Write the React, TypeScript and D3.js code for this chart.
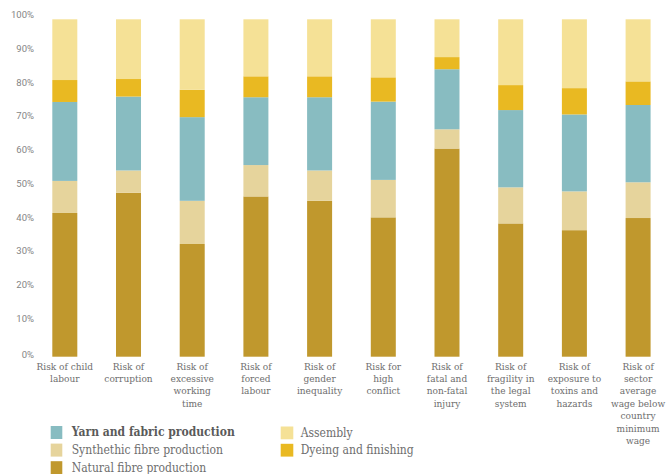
import React from "react";
import * as d3 from "d3";

const categories: string[] = [
  "Risk of child labour",
  "Risk of corruption",
  "Risk of excessive working time",
  "Risk of forced labour",
  "Risk of gender inequality",
  "Risk for high conflict",
  "Risk of fatal and non-fatal injury",
  "Risk of fragility in the legal system",
  "Risk of exposure to toxins and hazards",
  "Risk of sector average wage below country minimum wage",
];

const categoryLines: string[][] = [
  ["Risk of child", "labour"],
  ["Risk of", "corruption"],
  ["Risk of", "excessive", "working", "time"],
  ["Risk of", "forced", "labour"],
  ["Risk of", "gender", "inequality"],
  ["Risk for", "high", "conflict"],
  ["Risk of", "fatal and", "non-fatal", "injury"],
  ["Risk of", "fragility in", "the legal", "system"],
  ["Risk of", "exposure to", "toxins and", "hazards"],
  ["Risk of", "sector", "average", "wage below", "country", "minimum", "wage"],
];

const naturalFibre: number[] = [42.6, 48.6, 33.4, 47.5, 46.2, 41.3, 61.7, 39.5, 37.5, 41.1];
const syntheticFibre: number[] = [9.5, 6.6, 12.8, 9.3, 9.0, 11.1, 5.7, 10.7, 11.5, 10.6];
const yarnFabric: number[] = [23.4, 21.9, 24.8, 20.1, 21.7, 23.2, 17.8, 22.9, 22.8, 22.9];
const dyeingFinishing: number[] = [6.5, 5.2, 8.1, 6.2, 6.2, 7.2, 3.6, 7.4, 7.8, 7.0];
const assembly: number[] = [18.0, 17.7, 20.9, 16.9, 16.9, 17.2, 11.2, 19.5, 20.4, 18.4];

const seriesKeys: string[] = ["natural", "synthetic", "yarn", "dyeing", "assembly"];
const seriesNames: Record<string, string> = {
  natural: "Natural fibre production",
  synthetic: "Synthethic fibre production",
  yarn: "Yarn and fabric production",
  dyeing: "Dyeing and finishing",
  assembly: "Assembly",
};
const seriesColors: Record<string, string> = {
  natural: "#C0982D",
  synthetic: "#E6D49C",
  yarn: "#88BCC1",
  dyeing: "#E9B922",
  assembly: "#F5E196",
};

const yTicks: number[] = [0, 10, 20, 30, 40, 50, 60, 70, 80, 90, 100];

const W = 666;
const H = 474;

export default function App() {
  const rows = categories.map((c, i) => ({
    category: c,
    natural: naturalFibre[i],
    synthetic: syntheticFibre[i],
    yarn: yarnFabric[i],
    dyeing: dyeingFinishing[i],
    assembly: assembly[i],
  }));
  const stacked = d3.stack<any>().keys(seriesKeys)(rows);

  const y = d3.scaleLinear().domain([0, 100]).range([356.7, 19.3]);
  const x = d3
    .scaleBand<string>()
    .domain(categories)
    .range([33.2, 669.7])
    .paddingInner(0.6075)
    .paddingOuter(0.3);

  const labelFont = "'DejaVu Serif', 'Liberation Serif', serif";
  const legendCol1 = [
    { key: "yarn", bold: true },
    { key: "synthetic", bold: false },
    { key: "natural", bold: false },
  ];
  const legendCol2 = [
    { key: "assembly", bold: false },
    { key: "dyeing", bold: false },
  ];

  return (
    <svg
      width={W}
      height={H}
      style={{ position: "absolute", left: 0, top: 0, background: "#fff" }}
    >
      {/* y tick labels */}
      <g fontFamily="Roboto, 'Noto Sans', sans-serif" fontSize={9.5} fill="#858585">
        {yTicks.map((t) => (
          <text
            key={t}
            x={34}
            y={y(t) - 3.7 + (t === 0 ? 2.3 : 0)}
            textAnchor="end"
            dominantBaseline="middle"
          >
            {t}%
          </text>
        ))}
      </g>

      {/* bars */}
      {stacked.map((s) => (
        <g key={s.key} fill={seriesColors[s.key]}>
          {s.map((d, i) => (
            <rect
              key={i}
              x={x(categories[i])}
              width={x.bandwidth()}
              y={y(d[1])}
              height={y(d[0]) - y(d[1])}
            />
          ))}
        </g>
      ))}

      {/* x labels */}
      <g fontFamily={labelFont} fontSize={10} fill="#6e6e6e" style={{ fontStretch: "condensed" }}>
        {categories.map((c, i) => (
          <text
            key={c}
            x={(x(c) as number) + x.bandwidth() / 2}
            y={369.5}
            textAnchor="middle"
          >
            {categoryLines[i].map((ln, j) => (
              <tspan key={j} x={(x(c) as number) + x.bandwidth() / 2} dy={j === 0 ? 0 : 12.4}>
                {ln}
              </tspan>
            ))}
          </text>
        ))}
      </g>

      {/* legend */}
      <g fontFamily={labelFont} fontSize={12} style={{ fontStretch: "condensed" }}>
        {legendCol1.map((it, i) => (
          <g key={it.key} transform={`translate(50.7, ${426 + i * 17.6})`}>
            <rect width={11.6} height={13} fill={seriesColors[it.key]} />
            <text
              x={21}
              y={6.8}
              dominantBaseline="middle"
              fill={it.bold ? "#5a5a5a" : "#6e6e6e"}
              fontWeight={it.bold ? 700 : 400}
            >
              {seriesNames[it.key]}
            </text>
          </g>
        ))}
        {legendCol2.map((it, i) => (
          <g key={it.key} transform={`translate(280.7, ${426.5 + i * 17.3})`}>
            <rect width={12.6} height={12.8} fill={seriesColors[it.key]} />
            <text x={20} y={6.8} dominantBaseline="middle" fill="#6e6e6e">
              {seriesNames[it.key]}
            </text>
          </g>
        ))}
      </g>
    </svg>
  );
}
